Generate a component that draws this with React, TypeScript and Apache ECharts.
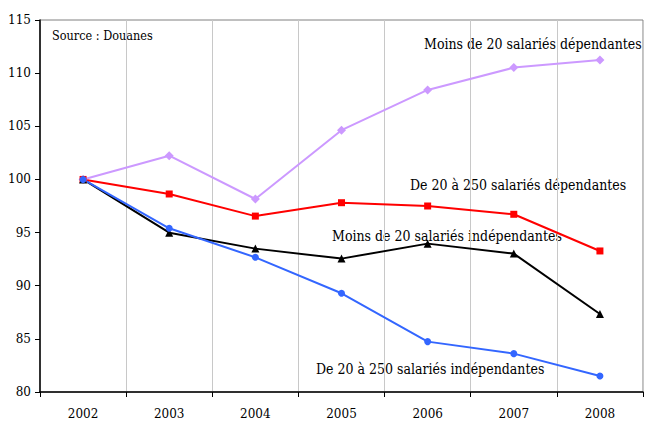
import React, { useEffect, useRef } from "react";
import * as echarts from "echarts";

const years = ["2002", "2003", "2004", "2005", "2006", "2007", "2008"];
const moins20Dep = [100, 102.23, 98.16, 104.63, 108.42, 110.52, 111.24];
const de20a250Dep = [100, 98.63, 96.55, 97.81, 97.5, 96.72, 93.27];
const moins20Indep = [100, 94.99, 93.49, 92.55, 93.96, 93.02, 87.34];
const de20a250Indep = [100, 95.4, 92.67, 89.29, 84.74, 83.61, 81.5];
const seriesNames = [
  "Moins de 20 salariés dépendantes",
  "De 20 à 250 salariés dépendantes",
  "Moins de 20 salariés indépendantes",
  "De 20 à 250 salariés indépendantes",
];
const sourceText = "Source : Douanes";

const FONT = "DejaVu Serif";

export default function App() {
  const ref = useRef<HTMLDivElement>(null);
  useEffect(() => {
    if (!ref.current) return;
    const chart = echarts.init(ref.current, undefined, { renderer: "svg" });
    const mk = (name: string, data: number[], color: string, symbol: string, size: number) => ({
      name,
      type: "line",
      data,
      symbol,
      symbolSize: size,
      showSymbol: true,
      lineStyle: { color, width: 2 },
      itemStyle: { color },
    });
    const txt = (text: string, x: number, y: number, size: number) => ({
      type: "text",
      x,
      y,
      scaleY: 1.12,
      style: { text, fontFamily: FONT, fontSize: size, fill: "#000", verticalAlign: "middle", align: "left" },
    });
    chart.setOption({
      animation: false,
      backgroundColor: "#ffffff",
      textStyle: { fontFamily: FONT },
      grid: {
        left: 40,
        right: 2,
        top: 20,
        bottom: 29,
        show: true,
        borderColor: "#808080",
        borderWidth: 1,
        containLabel: false,
      },
      xAxis: {
        type: "category",
        data: years,
        boundaryGap: true,
        axisLine: { lineStyle: { color: "#000", width: 1.5 } },
        axisTick: { show: true, length: 5, lineStyle: { color: "#000" } },
        axisLabel: { color: "#000", fontFamily: FONT, fontSize: 12, margin: 16 },
        splitLine: { show: true, lineStyle: { color: "#c8c8c8", width: 1 } },
      },
      yAxis: {
        type: "value",
        min: 80,
        max: 115,
        interval: 5,
        axisLine: { show: true, lineStyle: { color: "#000", width: 1.5 } },
        axisTick: { show: true, length: 5, lineStyle: { color: "#000" } },
        axisLabel: { color: "#000", fontFamily: FONT, fontSize: 12, margin: 9 },
        splitLine: { show: false },
      },
      series: [
        mk(seriesNames[0], moins20Dep, "#cc99ff", "diamond", 9),
        mk(seriesNames[1], de20a250Dep, "#ff0000", "rect", 7),
        mk(seriesNames[2], moins20Indep, "#000000", "triangle", 8),
        mk(seriesNames[3], de20a250Indep, "#3366ff", "circle", 7),
      ],
      graphic: [
        txt(sourceText, 52, 36, 11.3),
        txt(seriesNames[0], 424, 44, 12.6),
        txt(seriesNames[1], 410, 185, 12.6),
        txt(seriesNames[2], 332, 236, 12.6),
        txt(seriesNames[3], 316, 369, 12.6),
      ],
    });
    return () => chart.dispose();
  }, []);
  return (
    <div
      ref={ref}
      style={{ position: "fixed", left: 0, top: 0, width: 645, height: 421 }}
    />
  );
}
